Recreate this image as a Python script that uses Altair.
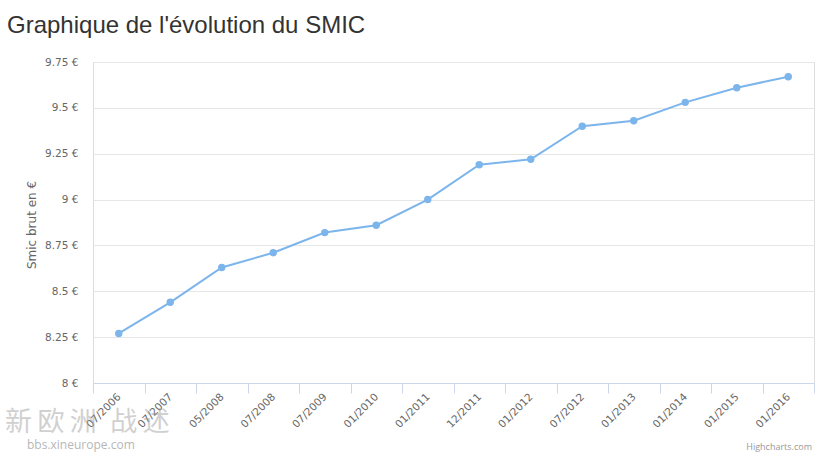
import altair as alt
import pandas as pd

dates = ["07/2006", "07/2007", "05/2008", "07/2008", "07/2009", "01/2010", "01/2011",
         "12/2011", "01/2012", "07/2012", "01/2013", "01/2014", "01/2015", "01/2016"]
smic = [8.27, 8.44, 8.63, 8.71, 8.82, 8.86, 9.00, 9.19, 9.22, 9.40, 9.43, 9.53, 9.61, 9.67]
y_ticks = [8, 8.25, 8.5, 8.75, 9, 9.25, 9.5, 9.75]
title_text = "Graphique de l'évolution du SMIC"

df = pd.DataFrame({"date": dates, "smic": smic})

W, H = 721, 321
PL, PT = 93, 62
FONT = "DejaVu Sans"

x = alt.X("date:O", sort=dates, title=None,
          scale=alt.Scale(type="band", paddingInner=0, paddingOuter=0),
          axis=alt.Axis(labelAngle=-45, labelAlign="right", labelBaseline="middle",
                        tickBand="extent", tickSize=10, tickColor="#ccd6eb",
                        domainColor="#ccd6eb", labelColor="#666666", labelFont=FONT,
                        labelFontSize=10.5, labelPadding=2, grid=False))
y = alt.Y("smic:Q", title="Smic brut en €",
          scale=alt.Scale(domain=[8, 9.75], nice=False, zero=False),
          axis=alt.Axis(values=y_ticks, labelExpr="datum.value + ' €'", ticks=False,
                        domain=False, labelPadding=15, labelColor="#666666",
                        labelFont=FONT, labelFontSize=10.5, gridColor="#e6e6e6",
                        titleColor="#666666", titleFont=FONT, titleFontSize=12,
                        titleFontWeight="normal", titleX=-62, titleY=H / 2 + 2,
                        titleAngle=-90, titleAlign="center", titleBaseline="middle"))

line = alt.Chart(df).mark_line(color="#7cb5ec", strokeWidth=2).encode(x=x, y=y)
pts = alt.Chart(df).mark_point(filled=True, color="#7cb5ec", opacity=1, size=55).encode(x=x, y=y)

title = alt.Chart(pd.DataFrame({"t": [title_text]})).mark_text(
    align="left", baseline="alphabetic", font="Liberation Sans", fontSize=24,
    color="#333333"
).encode(text="t:N", x=alt.value(7 - PL), y=alt.value(33 - PT))

credit = alt.Chart(pd.DataFrame({"t": ["Highcharts.com"]})).mark_text(
    align="right", baseline="alphabetic", font="Open Sans", fontSize=9, color="#999999"
).encode(text="t:N", x=alt.value(812 - PL), y=alt.value(450 - PT))

wm1 = alt.Chart(pd.DataFrame({"t": ["新\u2009欧\u2009洲\u2002战\u2009述"]})).mark_text(
    align="left", baseline="alphabetic", font="Noto Sans CJK SC", fontSize=27,
    color="#999999", opacity=0.45
).encode(text="t:N", x=alt.value(5 - PL), y=alt.value(431 - PT))

wm2 = alt.Chart(pd.DataFrame({"t": ["bbs.xineurope.com"]})).mark_text(
    align="left", baseline="alphabetic", font="Open Sans", fontSize=12,
    color="#999999", opacity=0.7
).encode(text="t:N", x=alt.value(27 - PL), y=alt.value(449 - PT))

chart = alt.layer(line, pts, title, credit, wm1, wm2).properties(
    width=W, height=H,
    autosize=alt.AutoSizeParams(type="none"),
    padding={"left": PL, "top": PT, "right": 824 - PL - W, "bottom": 457 - PT - H},
).configure_view(stroke=None).configure(background="white")

chart.save("out.html", embed_options={"renderer": "svg", "actions": False})
